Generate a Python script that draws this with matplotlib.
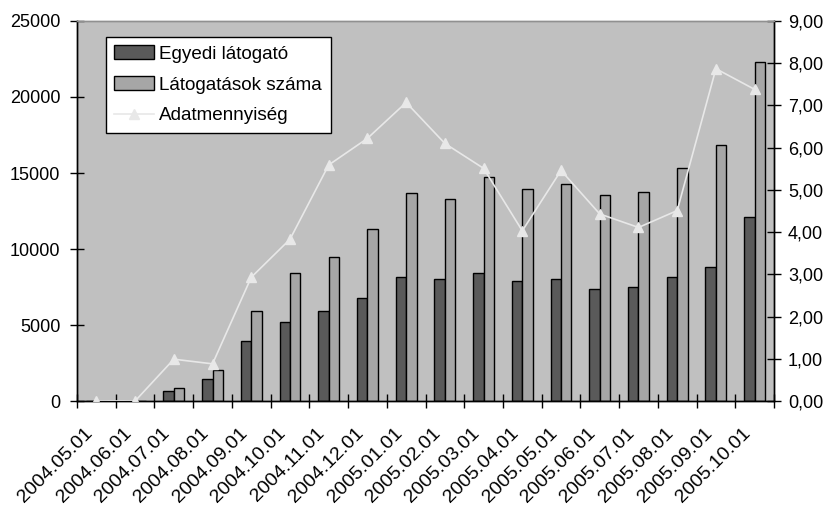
import matplotlib
matplotlib.use("Agg")
import matplotlib.pyplot as plt
import numpy as np
from matplotlib.ticker import FuncFormatter, FixedLocator, NullFormatter

plt.rcParams['font.family'] = ['Liberation Sans', 'DejaVu Sans']

categories = ["2004.05.01", "2004.06.01", "2004.07.01", "2004.08.01", "2004.09.01",
              "2004.10.01", "2004.11.01", "2004.12.01", "2005.01.01", "2005.02.01",
              "2005.03.01", "2005.04.01", "2005.05.01", "2005.06.01", "2005.07.01",
              "2005.08.01", "2005.09.01", "2005.10.01"]
egyedi = [0, 0, 680, 1450, 3960, 5230, 5910, 6800, 8150, 8050,
          8440, 7870, 8050, 7390, 7480, 8160, 8840, 12120]
latogatasok = [0, 0, 880, 2040, 5920, 8440, 9500, 11320, 13680, 13270,
               14720, 13950, 14260, 13550, 13750, 15310, 16840, 22280]
adat = [0.0, 0.0, 0.99, 0.88, 2.93, 3.83, 5.59, 6.22, 7.07, 6.10,
        5.51, 4.03, 5.46, 4.43, 4.11, 4.51, 7.87, 7.38]

fig = plt.figure(figsize=(8.26, 5.05), dpi=100)
ax = fig.add_axes([77/826, 1-401/505, 697/826, 380/505])
ax.set_facecolor('#C0C0C0')

x = np.arange(len(categories))
w = 0.27
b1 = ax.bar(x - w/2, egyedi, width=w, color='#5A5A5A', edgecolor='black', linewidth=1,
            label='Egyedi látogató', zorder=2)
b2 = ax.bar(x + w/2, latogatasok, width=w, color='#A6A6A6', edgecolor='black', linewidth=1,
            label='Látogatások száma', zorder=2)
ax.set_xlim(-0.5, len(categories) - 0.5)
ax.set_ylim(0, 25000)
ax.yaxis.set_major_locator(FixedLocator([0, 5000, 10000, 15000, 20000, 25000]))
ax.yaxis.set_major_formatter(FuncFormatter(lambda v, p: f"{int(v)}"))

ax.xaxis.set_major_locator(FixedLocator(np.arange(-0.5, len(categories), 1.0)))
ax.xaxis.set_major_formatter(NullFormatter())
ax.tick_params(axis='x', which='major', direction='inout', length=10, width=1)
ax.tick_params(axis='y', direction='inout', length=10, width=1, labelsize=13, pad=7)

for i, lab in enumerate(categories):
    ax.annotate(lab, xy=(x[i], 0), xycoords=('data', 'axes fraction'),
                xytext=(-9, -17), textcoords='offset points',
                rotation=45, ha='right', va='top', rotation_mode='anchor',
                fontsize=14, annotation_clip=False)

ax2 = ax.twinx()
ln, = ax2.plot(x, adat, color='#E8E8E8', linewidth=1.2, marker='^', markersize=6.5,
               markerfacecolor='#E8E8E8', markeredgecolor='#E8E8E8', label='Adatmennyiség', zorder=3)
ax2.set_ylim(0, 9)
ax2.yaxis.set_major_locator(FixedLocator(np.arange(0, 10, 1)))
ax2.yaxis.set_major_formatter(FuncFormatter(lambda v, p: f"{v:.2f}".replace('.', ',')))
ax2.tick_params(axis='y', direction='inout', length=10, width=1, labelsize=13, pad=5)

for a in (ax, ax2):
    for s in ('left', 'right', 'bottom'):
        a.spines[s].set_color('black')
        a.spines[s].set_linewidth(1)
    a.spines['top'].set_color('#909090')
    a.spines['top'].set_linewidth(1)

leg = ax2.legend([b1, b2, ln], ['Egyedi látogató', 'Látogatások száma', 'Adatmennyiség'],
                 loc='upper left', bbox_to_anchor=(0.041, 0.958), fontsize=13.6,
                 frameon=True, fancybox=False, edgecolor='black', framealpha=1,
                 handlelength=2.1, handletextpad=0.3, labelspacing=0.72, borderpad=0.45,
                 borderaxespad=0)
leg.get_frame().set_linewidth(1)

fig.savefig('out.png', dpi=100, facecolor='white')
